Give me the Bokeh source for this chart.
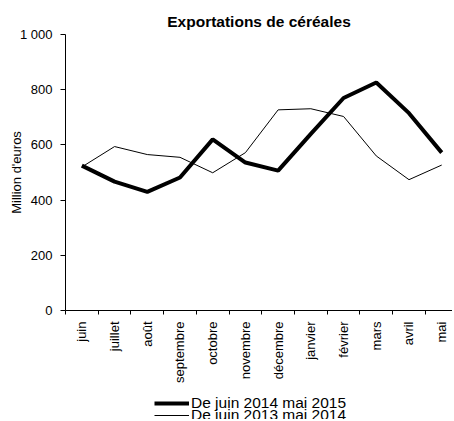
from bokeh.plotting import figure
from bokeh.layouts import column
from bokeh.models import Range1d, FixedTicker, Legend, LegendItem, ColumnDataSource
from bokeh.embed import file_html
from bokeh.resources import INLINE
from math import pi

months = ["juin", "juillet", "août", "septembre", "octobre", "novembre",
          "décembre", "janvier", "février", "mars", "avril", "mai"]
exports_2014_2015 = [525, 467, 430, 482, 620, 536, 507, 640, 770, 826, 715, 572]
exports_2013_2014 = [520, 594, 565, 555, 499, 572, 727, 731, 703, 560, 474, 527]
y_ticks = [0, 200, 400, 600, 800, 1000]
y_tick_labels = ["0", "200", "400", "600", "800", "1 000"]
series_names = ["De juin 2014 mai 2015", "De juin 2013 mai 2014"]

FONT = "Liberation Sans"

x_pos = [i + 0.5 for i in range(len(months))]
src = ColumnDataSource(dict(x=x_pos, a=exports_2014_2015, b=exports_2013_2014))

p = figure(width=452, height=388, output_backend="svg", toolbar_location=None,
           x_range=Range1d(0, 11.83), y_range=Range1d(0, 1000),
           min_border_left=65, min_border_right=0, min_border_top=34, min_border_bottom=78,
           title="Exportations de céréales")
p.outline_line_color = None
p.xgrid.visible = False
p.ygrid.visible = False
p.background_fill_color = "white"
p.border_fill_color = "white"

p.title.align = "center"
p.title.text_font = FONT
p.title.text_font_size = "15.5px"
p.title.text_font_style = "bold"
p.title.text_color = "black"

# x axis
xa = p.xaxis[0]
xa.ticker = FixedTicker(ticks=x_pos, minor_ticks=list(range(0, 13)))
xa.major_label_overrides = {x: m for x, m in zip(x_pos, months)}
xa.major_label_orientation = pi / 2
xa.major_tick_line_color = None
xa.major_tick_out = 4
xa.major_tick_in = 0
xa.minor_tick_out = 4
xa.minor_tick_in = 0
xa.minor_tick_line_color = "black"
xa.major_label_standoff = 7
xa.major_label_text_font = FONT
xa.major_label_text_font_size = "13px"
xa.major_label_text_color = "black"
xa.axis_line_color = "black"

# y axis
ya = p.yaxis[0]
ya.ticker = FixedTicker(ticks=y_ticks, minor_ticks=[])
ya.major_label_overrides = {t: l for t, l in zip(y_ticks, y_tick_labels)}
ya.major_tick_out = 5
ya.major_tick_in = 0
ya.major_tick_line_color = "black"
ya.axis_line_color = "black"
ya.major_label_standoff = 8
ya.major_label_text_font = FONT
ya.major_label_text_font_size = "13px"
ya.major_label_text_color = "black"
ya.axis_label = "Million d'euros"
ya.axis_label_text_font = FONT
ya.axis_label_text_font_size = "13px"
ya.axis_label_text_font_style = "normal"
ya.axis_label_text_color = "black"
ya.axis_label_standoff = -7

p.line("x", "b", source=src, line_color="black", line_width=1)
p.line("x", "a", source=src, line_color="black", line_width=4)

# legend strip below the chart (proxy lines fall outside its view)
pl = figure(width=452, height=31, output_backend="svg", toolbar_location=None,
            x_axis_type=None, y_axis_type=None, x_range=Range1d(-2, -1), y_range=Range1d(-2, -1),
            min_border_left=65, min_border_right=0, min_border_top=0, min_border_bottom=0)
pl.outline_line_color = None
pl.xgrid.visible = False
pl.ygrid.visible = False
pl.background_fill_color = "white"
pl.border_fill_color = "white"
lt = pl.line(x=x_pos, y=exports_2014_2015, line_color="black", line_width=4)
ln = pl.line(x=x_pos, y=exports_2013_2014, line_color="black", line_width=1)


def make_legend(label, renderer, loc):
    lg = Legend(items=[LegendItem(label=label, renderers=[renderer])], location=loc)
    lg.border_line_color = None
    lg.background_fill_alpha = 0
    lg.padding = 0
    lg.margin = 0
    lg.spacing = 0
    lg.glyph_width = 35
    lg.glyph_height = 12
    lg.label_height = 12
    lg.label_standoff = 2
    lg.label_text_font = FONT
    lg.label_text_font_size = "15.5px"
    lg.label_text_color = "black"
    return lg


pl.add_layout(make_legend(series_names[0], lt, (89, 7)), "center")
pl.add_layout(make_legend(series_names[1], ln, (89, -5)), "center")

open("out.html", "w").write(file_html(column(p, pl, spacing=0), INLINE))
